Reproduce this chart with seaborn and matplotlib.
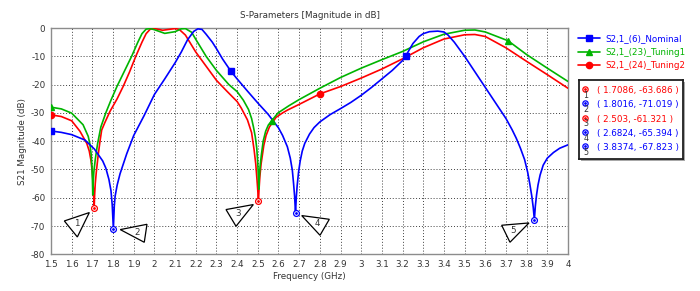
import numpy as np
import pandas as pd
import matplotlib
matplotlib.use('Agg')
import matplotlib.pyplot as plt
import matplotlib.transforms as mtransforms
from matplotlib.lines import Line2D
from matplotlib.patches import Polygon
import seaborn as sns

# ---- data ----
nominal_f = [1.5, 1.55, 1.6, 1.664, 1.71, 1.75, 1.765, 1.78, 1.79, 1.796, 1.8016, 1.806, 1.81, 1.82,
             1.834, 1.85, 1.866, 1.9, 1.95, 2.0, 2.05, 2.1, 2.13, 2.16, 2.19, 2.21, 2.23, 2.25, 2.28,
             2.3, 2.33, 2.37, 2.4, 2.45, 2.5, 2.55, 2.6, 2.62, 2.643, 2.657, 2.667, 2.673, 2.678,
             2.6824, 2.686, 2.69, 2.697, 2.705, 2.715, 2.727, 2.75, 2.772, 2.8, 2.85, 2.9, 2.95,
             3.0, 3.05, 3.1, 3.15, 3.2, 3.216, 3.25, 3.28, 3.3, 3.33, 3.37, 3.4, 3.42, 3.45, 3.5,
             3.55, 3.6, 3.65, 3.7, 3.73, 3.75, 3.77, 3.79, 3.805, 3.815, 3.825, 3.832, 3.8374,
             3.842, 3.848, 3.855, 3.865, 3.88, 3.9, 3.93, 3.96, 4.0]
nominal_db = [-36.4, -36.9, -37.7, -39.6, -42.8, -47.0, -49.5, -53.5, -57.5, -62.5, -71.0, -63.0, -59.5, -55.5,
              -51.5, -48.0, -44.5, -38.0, -31.0, -23.5, -18.0, -12.3, -8.5, -4.2, -1.2, -0.3, -0.5, -2.2, -5.0,
              -7.3, -11.0, -15.3, -18.0, -22.3, -26.5, -30.5, -35.3, -38.0, -42.0, -46.0, -50.3, -55.0, -59.5,
              -65.4, -60.0, -56.0, -51.0, -47.0, -43.5, -40.8, -37.5, -35.2, -33.2, -30.6, -28.5, -26.3,
              -23.8, -21.0, -18.0, -15.0, -11.5, -9.8, -5.5, -3.0, -2.0, -1.3, -1.1, -1.4, -2.5, -5.0, -10.0,
              -15.5, -21.0, -26.5, -32.0, -36.0, -39.0, -42.5, -46.5, -51.0, -55.0, -59.5, -63.5, -67.8,
              -63.0, -59.0, -55.5, -52.0, -48.5, -46.0, -44.0, -42.5, -41.3]

tuning1_f = [1.5, 1.55, 1.6, 1.655, 1.68, 1.688, 1.694, 1.698, 1.7, 1.702, 1.704, 1.707, 1.714,
             1.725, 1.741, 1.765, 1.79, 1.82, 1.86, 1.89, 1.92, 1.94, 1.96, 1.98, 2.0, 2.05, 2.1,
             2.13, 2.15, 2.18, 2.2, 2.25, 2.3, 2.36, 2.4, 2.43, 2.455, 2.47, 2.479, 2.488, 2.495,
             2.5, 2.503, 2.505, 2.507, 2.511, 2.517, 2.526, 2.538, 2.551, 2.567, 2.598, 2.65, 2.7,
             2.8, 2.9, 3.0, 3.1, 3.2, 3.3, 3.4, 3.5, 3.55, 3.6, 3.71, 3.8, 3.9, 4.0]
tuning1_db = [-28.0, -28.6, -30.1, -34.2, -38.3, -41.0, -44.5, -49.0, -53.0, -59.0, -55.0, -51.0, -46.5,
              -41.0, -35.0, -30.0, -25.5, -20.5, -14.5, -10.0, -5.0, -2.0, -0.4, -0.2, -0.6, -1.9, -1.3,
              -0.3, -0.2, -1.5, -4.0, -10.0, -15.0, -20.0, -22.5, -25.5, -28.8, -32.0, -35.0, -38.5, -42.5,
              -48.0, -53.0, -57.0, -53.0, -49.0, -45.0, -40.0, -36.5, -34.3, -32.8, -30.0, -27.5, -25.3,
              -21.3, -17.5, -14.2, -11.2, -8.3, -4.9, -2.2, -0.8, -0.7, -1.4, -4.5, -9.4, -14.2, -18.9]

tuning2_f = [1.5, 1.55, 1.6, 1.64, 1.673, 1.685, 1.693, 1.699, 1.703, 1.706, 1.7086, 1.711, 1.714,
             1.719, 1.728, 1.737, 1.745, 1.76, 1.785, 1.82, 1.85, 1.88, 1.91, 1.94, 1.96, 1.98, 2.0,
             2.04, 2.08, 2.1, 2.12, 2.15, 2.2, 2.25, 2.3, 2.35, 2.4, 2.42, 2.45, 2.47, 2.482, 2.49,
             2.496, 2.5, 2.503, 2.506, 2.51, 2.516, 2.529, 2.54, 2.556, 2.588, 2.62, 2.644, 2.7, 2.8,
             2.9, 3.0, 3.1, 3.2, 3.3, 3.4, 3.5, 3.55, 3.6, 3.7, 3.8, 3.9, 4.0]
tuning2_db = [-30.7, -31.3, -32.8, -36.5, -40.8, -43.5, -46.7, -50.5, -54.5, -58.5, -63.7, -59.0, -55.0,
              -51.0, -45.0, -40.0, -36.1, -33.5, -29.5, -25.0, -20.5, -15.5, -10.0, -5.0, -2.0, -0.4, -0.2,
              -0.8, -0.4, -0.2, -0.5, -2.5, -8.5, -13.5, -18.5, -22.3, -26.0, -28.3, -32.5, -37.0, -43.0, -48.0,
              -53.5, -57.5, -61.3, -57.0, -52.5, -48.0, -41.5, -38.0, -35.0, -31.6, -30.0, -29.0, -27.0, -23.3,
              -20.7, -17.7, -14.5, -10.9, -7.0, -3.9, -2.4, -2.3, -3.0, -7.0, -11.8, -16.5, -21.3]

# symbols along the curves
nominal_mk_f, nominal_mk_db = [1.5, 2.37, 3.216], [-36.4, -15.3, -9.8]
tuning1_mk_f, tuning1_mk_db = [1.5, 2.567, 3.71], [-28.0, -32.8, -4.5]
tuning2_mk_f, tuning2_mk_db = [1.5, 2.8], [-30.7, -23.3]

# marker table
mark_no = ['1', '2', '3', '4', '5']
mark_f = [1.7086, 1.8016, 2.503, 2.6824, 3.8374]
mark_db = [-63.686, -71.019, -61.321, -65.394, -67.823]
mark_txt = ['( 1.7086, -63.686 )', '( 1.8016, -71.019 )', '( 2.503, -61.321 )',
            '( 2.6824, -65.394 )', '( 3.8374, -67.823 )']
mark_curve = ['Tuning2', 'Nominal', 'Tuning2', 'Nominal', 'Nominal']

x_ticks = [1.5, 1.6, 1.7, 1.8, 1.9, 2.0, 2.1, 2.2, 2.3, 2.4, 2.5, 2.6, 2.7, 2.8, 2.9,
           3.0, 3.1, 3.2, 3.3, 3.4, 3.5, 3.6, 3.7, 3.8, 3.9, 4.0]
x_labels = ['1.5', '1.6', '1.7', '1.8', '1.9', '2', '2.1', '2.2', '2.3', '2.4', '2.5', '2.6', '2.7',
            '2.8', '2.9', '3', '3.1', '3.2', '3.3', '3.4', '3.5', '3.6', '3.7', '3.8', '3.9', '4']
y_ticks = [0, -10, -20, -30, -40, -50, -60, -70, -80]

names = {'Nominal': 'S2,1_(6)_Nominal', 'Tuning1': 'S2,1_(23)_Tuning1', 'Tuning2': 'S2,1_(24)_Tuning2'}
colors = {'Nominal': '#0000ff', 'Tuning1': '#00b400', 'Tuning2': '#ff0000'}
symbols = {'Nominal': 's', 'Tuning1': '^', 'Tuning2': 'o'}

df = pd.concat([
    pd.DataFrame({'f': nominal_f, 'db': nominal_db, 'curve': 'Nominal'}),
    pd.DataFrame({'f': tuning1_f, 'db': tuning1_db, 'curve': 'Tuning1'}),
    pd.DataFrame({'f': tuning2_f, 'db': tuning2_db, 'curve': 'Tuning2'}),
])
mk = {'Nominal': (nominal_mk_f, nominal_mk_db),
      'Tuning1': (tuning1_mk_f, tuning1_mk_db),
      'Tuning2': (tuning2_mk_f, tuning2_mk_db)}

sns.set_theme(style='white')
plt.rcParams['font.family'] = ['DejaVu Sans']
plt.rcParams['axes.unicode_minus'] = False
FS = 6.3
TXT = '#333333'

fig = plt.figure(figsize=(7.0, 2.91), dpi=100)
fig.patch.set_facecolor('white')
ax = fig.add_axes([51 / 700, 1 - 254.3 / 291, 517 / 700, 226.3 / 291])

for c in ['Tuning2', 'Tuning1', 'Nominal']:
    sub = df[df['curve'] == c]
    sns.lineplot(data=sub, x='f', y='db', ax=ax, color=colors[c], lw=1.2, sort=True,
                 estimator=None, zorder=3)
    ax.plot(mk[c][0], mk[c][1], ls='none', marker=symbols[c], ms=4.5, color=colors[c], zorder=4)

ax.set_xlim(1.5, 4.0)
ax.set_ylim(-80, 0)
ax.set_xticks(x_ticks)
ax.set_xticklabels(x_labels)
ax.set_yticks(y_ticks)
ax.set_yticklabels([str(v) for v in y_ticks])
ax.tick_params(labelsize=FS, colors=TXT, length=2, width=0.6, pad=2)
ax.tick_params(axis='both', color='#909090')
ax.grid(True, color='#404040', ls=(0, (1, 2)), lw=0.7)
for s in ax.spines.values():
    s.set_color('#8c8c8c')
    s.set_linewidth(1.0)
ax.set_xlabel('Frequency (GHz)', fontsize=FS, color=TXT, labelpad=2)
ax.set_ylabel('S21 Magnitude (dB)', fontsize=FS, color=TXT, labelpad=3)
ax.set_title('S-Parameters [Magnitude in dB]', fontsize=FS, color=TXT, pad=7)

# dip markers with callouts
callouts = {
    '1': [(-29.8, 12.8), (-4.8, 4.4), (-16.8, 28.8)],
    '2': [(6.9, 0.7), (33.6, -4.6), (30.9, 13.4)],
    '3': [(-32.4, 8.1), (-5.1, 3.1), (-22.4, 24.8)],
    '4': [(6.2, 2.6), (33.8, 6.3), (24.5, 22.3)],
    '5': [(-32.7, 5.4), (-5.4, 3.1), (-24.4, 22.4)],
}
for no, f, d, c in zip(mark_no, mark_f, mark_db, mark_curve):
    ax.plot([f], [d], ls='none', marker='o', ms=4.2, mfc='white', mec=colors[c], mew=0.9, zorder=6)
    ax.plot([f], [d], ls='none', marker='o', ms=1.0, color=colors[c], zorder=7)
    tr = fig.dpi_scale_trans + mtransforms.ScaledTranslation(f, d, ax.transData)
    verts = [(px / 100, -py / 100) for px, py in callouts[no]]
    ax.add_patch(Polygon(verts, closed=True, fc='white', ec='black', lw=0.9, transform=tr,
                         clip_on=False, zorder=8))
    cx = sum(v[0] for v in verts) / 3
    cy = sum(v[1] for v in verts) / 3
    ax.text(cx, cy, no, transform=tr, fontsize=FS, color=TXT, ha='center', va='center', zorder=9)

# legend for the curves
handles = [Line2D([], [], color=colors[c], lw=1.2, marker=symbols[c], ms=4.5) for c in names]
ax.legend(handles, list(names.values()), loc='upper left', bbox_to_anchor=(1.012, 0.99),
          frameon=False, fontsize=FS, labelcolor='linecolor', handlelength=2.6,
          handletextpad=0.6, labelspacing=0.55, borderaxespad=0.2, borderpad=0.2)

# marker table box (shadow first, then the box)
sh = fig.add_axes([581 / 700, 1 - 161 / 291, 104 / 700, 79 / 291])
sh.set_facecolor('#a8a8a8')
sh.set_xticks([])
sh.set_yticks([])
for s in sh.spines.values():
    s.set_visible(False)
bx = fig.add_axes([579 / 700, 1 - 159 / 291, 104 / 700, 79 / 291])
bx.set_facecolor('white')
bx.set_xlim(0, 1)
bx.set_ylim(0, 1)
bx.set_xticks([])
bx.set_yticks([])
for s in bx.spines.values():
    s.set_color('#202020')
    s.set_linewidth(1.3)
rows = np.linspace(0.87, 0.14, len(mark_no))
for y, no, txt, c in zip(rows, mark_no, mark_txt, mark_curve):
    bx.plot([0.055], [y + 0.02], ls='none', marker='o', ms=3.8, mfc='white', mec=colors[c], mew=0.9)
    bx.plot([0.055], [y + 0.02], ls='none', marker='o', ms=1.0, color=colors[c])
    bx.text(0.065, y - 0.06, no, fontsize=FS - 0.5, color=TXT, ha='center', va='center')
    bx.text(0.175, y, txt, fontsize=FS, color=colors[c], ha='left', va='center')

fig.savefig('out.png', dpi=100, facecolor='white')
